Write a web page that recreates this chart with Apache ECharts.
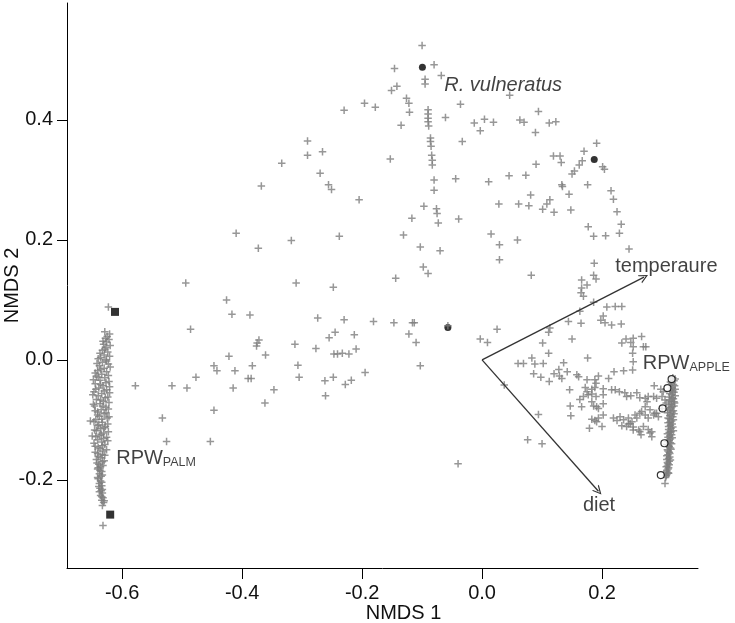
<!DOCTYPE html>
<html>
<head>
<meta charset="utf-8">
<script src="https://cdn.jsdelivr.net/npm/echarts@6/dist/echarts.min.js"></script>
<style>
  html, body { margin: 0; padding: 0; background: #fff; }
  #chart { width: 735px; height: 623px; }
</style>
</head>
<body>
<div id="chart"></div>
<script>
// NMDS ordination: site scores (+), group markers, environmental vectors

// scattered site scores [NMDS1, NMDS2]
const sitePoints = [
  [-0.100,0.524],[-0.146,0.486],[-0.080,0.492],[-0.095,0.468],[-0.095,0.460],[-0.068,0.474],
  [-0.142,0.456],[-0.151,0.449],[-0.230,0.416],[-0.196,0.428],[-0.178,0.421],[-0.126,0.436],
  [-0.122,0.428],[-0.121,0.413],[-0.135,0.391],[-0.090,0.417],[-0.090,0.410],[-0.090,0.403],
  [-0.090,0.397],[-0.089,0.390],[-0.061,0.404],[-0.036,0.426],[-0.013,0.395],[0.004,0.401],
  [0.019,0.396],[-0.003,0.382],[-0.033,0.364],[-0.086,0.370],[-0.086,0.364],[-0.085,0.356],
  [-0.084,0.341],[-0.083,0.333],[-0.083,0.325],[-0.080,0.300],[-0.080,0.283],[-0.044,0.302],
  [0.011,0.297],[0.028,0.260],[-0.153,0.335],[-0.291,0.365],[-0.291,0.341],[-0.266,0.347],
  [-0.334,0.328],[-0.270,0.311],[-0.256,0.292],[-0.251,0.284],[-0.368,0.290],[-0.205,0.267],
  [-0.097,0.256],[-0.076,0.252],[-0.075,0.244],[-0.073,0.228],[-0.117,0.236],[-0.039,0.235],
  [-0.131,0.208],[-0.103,0.188],[-0.070,0.182],[-0.098,0.155],[-0.090,0.144],[-0.144,0.136],
  [0.015,0.210],[0.029,0.192],[0.029,0.167],[-0.238,0.206],[-0.318,0.199],[-0.373,0.186],
  [-0.310,0.128],[-0.248,0.121],[-0.410,0.211],[-0.494,0.128],[-0.426,0.100],[-0.417,0.076],
  [-0.387,0.075],[-0.274,0.070],[-0.230,0.067],[-0.181,0.064],[-0.147,0.062],[-0.116,0.062],
  [-0.113,0.062],[-0.057,0.057],[0.025,0.051],[-0.372,0.033],[-0.375,0.028],[-0.376,0.023],
  [-0.383,-0.010],[-0.385,-0.031],[-0.361,0.008],[-0.347,-0.050],[-0.362,-0.072],[-0.312,0.026],
  [-0.277,0.019],[-0.255,0.037],[-0.245,0.046],[-0.213,0.042],[-0.307,-0.009],[-0.305,-0.029],
  [-0.247,0.010],[-0.241,0.010],[-0.233,0.011],[-0.222,0.010],[-0.210,0.018],[-0.262,-0.035],
  [-0.248,-0.029],[-0.261,-0.060],[-0.228,-0.041],[-0.218,-0.034],[-0.195,-0.021],[-0.122,0.043],
  [-0.110,0.029],[-0.103,-0.010],[-0.040,-0.173],[-0.003,0.035],[0.009,0.029],
  [-0.623,0.088],[-0.486,0.051],[-0.578,-0.043],[-0.517,-0.043],[-0.492,-0.047],[-0.477,-0.029],
  [-0.447,-0.010],[-0.442,-0.018],[-0.422,0.006],[-0.412,-0.018],[-0.390,-0.031],[-0.415,-0.047],
  [-0.447,-0.084],[-0.533,-0.097],[-0.526,-0.136],[-0.453,-0.136],
  [0.094,0.414],[0.063,0.400],[0.070,0.396],[0.089,0.379],[0.112,0.395],[0.123,0.397],
  [0.191,0.361],[0.170,0.348],[0.119,0.340],[0.130,0.340],[0.132,0.329],[0.090,0.326],
  [0.167,0.332],[0.162,0.325],[0.154,0.315],[0.150,0.310],[0.201,0.322],[0.204,0.318],
  [0.045,0.307],[0.073,0.308],[0.133,0.292],[0.134,0.289],[0.176,0.292],[0.215,0.282],
  [0.219,0.268],[0.081,0.275],[0.145,0.276],[0.061,0.260],[0.078,0.257],[0.113,0.267],
  [0.108,0.260],[0.101,0.251],[0.120,0.246],[0.148,0.250],[0.225,0.247],[0.177,0.222],
  [0.232,0.226],[0.186,0.206],[0.206,0.207],[0.229,0.211],[0.059,0.200],[0.245,0.185],
  [0.187,0.161],[0.082,0.141],[0.186,0.141],[0.190,0.135],[0.166,0.133],[0.175,0.125],
  [0.166,0.120],[0.165,0.112],[0.169,0.106],[0.186,0.096],[0.208,0.088],[0.222,0.089],
  [0.233,0.089],[0.163,0.081],[0.202,0.073],[0.198,0.066],[0.205,0.062],[0.216,0.058],
  [0.232,0.060],[0.144,0.064],[0.165,0.061],[0.113,0.053],[0.111,0.046],[0.150,0.035],
  [0.101,0.028],[0.233,0.028],[0.240,0.035],[0.248,0.029],[0.252,0.036],[0.266,0.039],
  [0.269,0.022],[0.252,0.022],[0.251,0.011],[0.252,-0.003],[0.251,-0.017],[0.236,-0.018],
  [0.220,-0.020],[0.111,0.011],[0.176,0.003],[0.060,-0.006],[0.069,-0.006],[0.083,0.003],
  [0.088,-0.007],[0.102,-0.006],[0.136,-0.005],[0.086,-0.023],[0.098,-0.029],[0.112,-0.036],
  [0.120,-0.023],[0.128,-0.016],[0.129,-0.027],[0.142,-0.020],[0.158,-0.025],[0.161,-0.028],
  [0.175,-0.033],[0.188,-0.033],[0.194,-0.027],[0.211,-0.031],[0.037,-0.042],[0.146,-0.050],
  [0.172,-0.046],[0.175,-0.053],[0.183,-0.049],[0.188,-0.046],[0.163,-0.066],[0.169,-0.061],
  [0.177,-0.058],[0.190,-0.061],[0.202,-0.058],[0.216,-0.050],[0.222,-0.050],[0.229,-0.053],
  [0.238,-0.055],[0.241,-0.061],[0.248,-0.060],[0.258,-0.055],[0.263,-0.063],[0.272,-0.064],
  [0.277,-0.061],[0.286,-0.061],[0.291,-0.064],[0.300,-0.061],[0.305,-0.067],[0.287,-0.043],
  [0.298,-0.049],[0.302,-0.053],[0.147,-0.077],[0.166,-0.078],[0.186,-0.077],[0.194,-0.081],
  [0.148,-0.093],[0.202,-0.092],[0.194,-0.097],[0.188,-0.101],[0.219,-0.097],[0.230,-0.095],
  [0.225,-0.101],[0.236,-0.100],[0.244,-0.097],[0.250,-0.103],[0.255,-0.092],[0.258,-0.097],
  [0.263,-0.089],[0.272,-0.092],[0.277,-0.097],[0.286,-0.092],[0.291,-0.089],[0.094,-0.091],
  [0.179,-0.114],[0.200,-0.111],[0.233,-0.110],[0.244,-0.107],[0.252,-0.112],[0.263,-0.120],
  [0.265,-0.125],[0.283,-0.120],[0.283,-0.128],[0.076,-0.133],[0.100,-0.140],[0.305,-0.206],
  [0.183,-0.070],[0.191,-0.078],[0.202,-0.073],[0.183,-0.099],[0.191,-0.103],[0.241,-0.111],
  [0.247,-0.106],[0.252,-0.117],[0.261,-0.117],[0.269,-0.111],[0.277,-0.116],[0.266,-0.086],
  [0.272,-0.078],[0.280,-0.083],[0.288,-0.089],[0.294,-0.095],[0.300,-0.081],[0.307,-0.072],
  [0.275,-0.070],[0.280,-0.122],[0.273,0.022],[0.190,-0.039],[0.133,-0.031],[0.183,-0.057],
  [0.202,-0.048],[0.046,0.441]
];

// dense band of RPW palm samples
const palmCluster = [
  [-0.629,0.047],[-0.625,0.039],[-0.622,0.034],[-0.626,0.030],[-0.631,0.026],[-0.627,0.021],
  [-0.633,0.016],[-0.624,0.013],[-0.630,0.008],[-0.636,0.004],[-0.627,0.000],[-0.633,-0.004],
  [-0.623,-0.007],[-0.638,-0.010],[-0.630,-0.014],[-0.641,-0.018],[-0.626,-0.020],[-0.634,-0.024],
  [-0.643,-0.027],[-0.629,-0.030],[-0.637,-0.034],[-0.622,-0.036],[-0.645,-0.040],[-0.632,-0.043],
  [-0.639,-0.047],[-0.626,-0.050],[-0.647,-0.053],[-0.634,-0.056],[-0.640,-0.060],[-0.624,-0.062],
  [-0.643,-0.066],[-0.631,-0.069],[-0.637,-0.073],[-0.646,-0.077],[-0.627,-0.079],[-0.635,-0.083],
  [-0.641,-0.087],[-0.630,-0.090],[-0.638,-0.094],[-0.625,-0.097],[-0.644,-0.100],[-0.633,-0.104],
  [-0.639,-0.108],[-0.628,-0.111],[-0.636,-0.115],[-0.643,-0.118],[-0.631,-0.122],[-0.638,-0.126],
  [-0.626,-0.129],[-0.641,-0.133],[-0.634,-0.137],[-0.629,-0.141],[-0.645,-0.144],[-0.637,-0.148],
  [-0.632,-0.152],[-0.641,-0.156],[-0.629,-0.159],[-0.636,-0.163],[-0.643,-0.166],[-0.633,-0.170],
  [-0.639,-0.174],[-0.636,-0.178],[-0.641,-0.182],[-0.634,-0.186],[-0.638,-0.190],[-0.635,-0.194],
  [-0.640,-0.198],[-0.636,-0.202],[-0.638,-0.206],[-0.634,-0.210],[-0.637,-0.214],[-0.635,-0.218],
  [-0.633,-0.222],[-0.636,-0.226],[-0.632,-0.230],[-0.634,-0.234],[-0.631,-0.238],[-0.633,-0.243],
  [-0.653,-0.102],[-0.650,-0.127],[-0.632,-0.276],
  [-0.621,0.043],[-0.628,0.036],[-0.632,0.031],[-0.620,0.024],[-0.629,0.018],[-0.637,0.011],
  [-0.621,0.006],[-0.640,0.002],[-0.626,-0.002],[-0.642,-0.006],[-0.620,-0.012],[-0.636,-0.016],
  [-0.645,-0.022],[-0.623,-0.026],[-0.640,-0.029],[-0.648,-0.033],[-0.627,-0.038],[-0.636,-0.041],
  [-0.621,-0.045],[-0.644,-0.049],[-0.630,-0.052],[-0.621,-0.055],[-0.649,-0.058],[-0.628,-0.063],
  [-0.636,-0.067],[-0.622,-0.071],[-0.648,-0.074],[-0.632,-0.077],[-0.623,-0.082],[-0.645,-0.085],
  [-0.627,-0.088],[-0.641,-0.092],[-0.622,-0.095],[-0.634,-0.099],[-0.647,-0.103],[-0.624,-0.107],
  [-0.641,-0.110],[-0.630,-0.113],[-0.646,-0.117],[-0.623,-0.120],[-0.635,-0.124],[-0.644,-0.128],
  [-0.631,-0.131],[-0.624,-0.135],[-0.647,-0.139],[-0.633,-0.143],[-0.640,-0.146],[-0.626,-0.150],
  [-0.645,-0.154],[-0.633,-0.158],[-0.640,-0.161],[-0.630,-0.168],[-0.642,-0.172],[-0.632,-0.176],
  [-0.640,-0.180],[-0.637,-0.184],[-0.633,-0.192],[-0.641,-0.196],[-0.634,-0.204],[-0.639,-0.211],
  [-0.633,-0.216],[-0.638,-0.220],[-0.634,-0.228],[-0.630,-0.235]
];

// dense band of RPW apple samples
const appleCluster = [
  [0.318,-0.030],[0.320,-0.035],[0.316,-0.039],[0.321,-0.043],[0.317,-0.047],[0.314,-0.051],
  [0.320,-0.054],[0.316,-0.058],[0.312,-0.062],[0.319,-0.065],[0.315,-0.069],[0.321,-0.072],
  [0.311,-0.075],[0.317,-0.078],[0.313,-0.082],[0.319,-0.085],[0.309,-0.088],[0.315,-0.091],
  [0.318,-0.095],[0.312,-0.098],[0.316,-0.102],[0.310,-0.105],[0.314,-0.109],[0.318,-0.112],
  [0.311,-0.116],[0.315,-0.120],[0.309,-0.123],[0.313,-0.127],[0.317,-0.130],[0.311,-0.134],
  [0.314,-0.138],[0.308,-0.141],[0.312,-0.145],[0.315,-0.149],[0.310,-0.152],[0.313,-0.156],
  [0.308,-0.160],[0.311,-0.164],[0.314,-0.167],[0.309,-0.171],[0.312,-0.175],[0.307,-0.178],
  [0.310,-0.182],[0.308,-0.186],[0.311,-0.189],[0.307,-0.193],
  [0.322,-0.032],[0.314,-0.037],[0.319,-0.041],[0.322,-0.049],[0.318,-0.052],[0.313,-0.056],
  [0.322,-0.060],[0.317,-0.063],[0.313,-0.067],[0.320,-0.070],[0.316,-0.074],[0.320,-0.077],
  [0.314,-0.080],[0.310,-0.084],[0.317,-0.087],[0.320,-0.090],[0.313,-0.093],[0.310,-0.097],
  [0.319,-0.100],[0.313,-0.104],[0.317,-0.107],[0.311,-0.111],[0.315,-0.114],[0.319,-0.118],
  [0.312,-0.121],[0.316,-0.125],[0.310,-0.129],[0.314,-0.132],[0.309,-0.136],[0.316,-0.140],
  [0.311,-0.143],[0.314,-0.147],[0.309,-0.150],[0.312,-0.154],[0.310,-0.158],[0.313,-0.162],
  [0.308,-0.166],[0.312,-0.169],[0.310,-0.173],[0.309,-0.177],[0.311,-0.180],[0.308,-0.184],
  [0.310,-0.188],[0.308,-0.191],[0.306,-0.196]
];

const vulneratusDots = [[-0.0995,0.488],[0.187,0.334],[-0.057,0.054]];
const palmSquares = [[-0.612,0.080],[-0.620,-0.258]];
const appleCircles = [[0.316,-0.032],[0.309,-0.047],[0.301,-0.081],[0.304,-0.139],[0.298,-0.192]];

const vectorOrigin = [0, 0];
const vectorEnds = [[0.270,0.138],[0.194,-0.219]];

const xTicks = [-0.6, -0.4, -0.2, 0.0, 0.2];
const yTicks = [-0.2, 0.0, 0.2, 0.4];

// text annotations: [x, y, text]
const rightLabels = [
  [0.222, 0.157, '{n|temperaure}'],
  [0.268, -0.005, '{n|RPW}{s|APPLE}'],
  [-0.610, -0.163, '{n|RPW}{s|PALM}'],
  [-0.063, 0.457, '{i|R. vulneratus}']
];
const centerLabels = [[0.195, -0.242, 'diet']];

const FONT = '"Liberation Sans", Arial, sans-serif';
const crossPath = 'path://M5,0L5,10M0,5L10,5';

const chart = echarts.init(document.getElementById('chart'), null, { renderer: 'canvas' });

const richText = {
  n: { fontSize: 20, fontFamily: FONT, color: '#111', lineHeight: 22, verticalAlign: 'bottom' },
  s: { fontSize: 12.5, fontFamily: FONT, color: '#111', lineHeight: 16, verticalAlign: 'bottom' },
  i: { fontSize: 20, fontFamily: FONT, fontStyle: 'italic', color: '#111', lineHeight: 22 }
};

chart.setOption({
  animation: false,
  backgroundColor: '#fff',
  grid: { left: 67, right: 37, top: 3, bottom: 55, containLabel: false, outerBoundsMode: 'none' },
  xAxis: {
    type: 'value', min: -0.692, max: 0.36,
    name: 'NMDS 1', nameLocation: 'middle', nameGap: 35, nameMoveOverlap: false,
    nameTextStyle: { fontSize: 20, fontFamily: FONT, color: '#111', padding: [0, 0, 0, 42] },
    axisLine: { show: true, onZero: false, lineStyle: { color: '#000', width: 1 } },
    axisTick: { show: true, length: 11, customValues: xTicks, lineStyle: { color: '#000' } },
    axisLabel: { customValues: xTicks, fontSize: 20, fontFamily: FONT, color: '#111', margin: 15,
      formatter: v => v.toFixed(1) },
    splitLine: { show: false }
  },
  yAxis: {
    type: 'value', min: -0.347, max: 0.595,
    name: 'NMDS 2', nameLocation: 'middle', nameGap: 45, nameRotate: 90, nameMoveOverlap: false,
    nameTextStyle: { fontSize: 20, fontFamily: FONT, color: '#111' },
    axisLine: { show: true, onZero: false, lineStyle: { color: '#000', width: 1 } },
    axisTick: { show: true, length: 10, customValues: yTicks, lineStyle: { color: '#000' } },
    axisLabel: { customValues: yTicks, fontSize: 20, fontFamily: FONT, color: '#111', margin: 14,
      formatter: v => v.toFixed(1) },
    splitLine: { show: false }
  },
  series: [
    {
      name: 'vectors', type: 'lines', coordinateSystem: 'cartesian2d',
      data: vectorEnds.map(e => ({ coords: [vectorOrigin, e] })),
      symbol: ['none', 'path://M0,10L5,0L10,10L8.6,10L5,2.8L1.4,10Z'], symbolSize: [9, 9],
      lineStyle: { color: '#333', width: 1.3, opacity: 1 }, z: 3
    },
    {
      name: 'sites', type: 'scatter',
      data: sitePoints.concat(palmCluster, appleCluster),
      symbol: crossPath, symbolSize: 7.5,
      itemStyle: { color: 'rgba(0,0,0,0)', borderColor: '#7d7d7d', borderWidth: 1.5 }, z: 2
    },
    {
      name: 'R. vulneratus', type: 'scatter', data: vulneratusDots,
      symbol: 'circle', symbolSize: 7, itemStyle: { color: '#000' }, z: 1
    },
    {
      name: 'palm', type: 'scatter', data: palmSquares,
      symbol: 'rect', symbolSize: 8, itemStyle: { color: '#000' }, z: 4
    },
    {
      name: 'apple', type: 'scatter', data: appleCircles,
      symbol: 'circle', symbolSize: 7,
      itemStyle: { color: '#fff', borderColor: '#000', borderWidth: 1.2 }, z: 4
    },
    {
      name: 'labels', type: 'scatter', symbolSize: 0, silent: true, z: 5,
      data: rightLabels.map(d => ({ value: [d[0], d[1]], text: d[2] })),
      label: { show: true, position: 'right', distance: 0, formatter: p => p.data.text, rich: richText }
    },
    {
      name: 'centerLabels', type: 'scatter', symbolSize: 0, silent: true, z: 5,
      data: centerLabels.map(d => ({ value: [d[0], d[1]], text: d[2] })),
      label: { show: true, position: 'inside', formatter: p => p.data.text,
        fontSize: 20, fontFamily: FONT, color: '#111' }
    }
  ]
});
</script>
</body>
</html>
